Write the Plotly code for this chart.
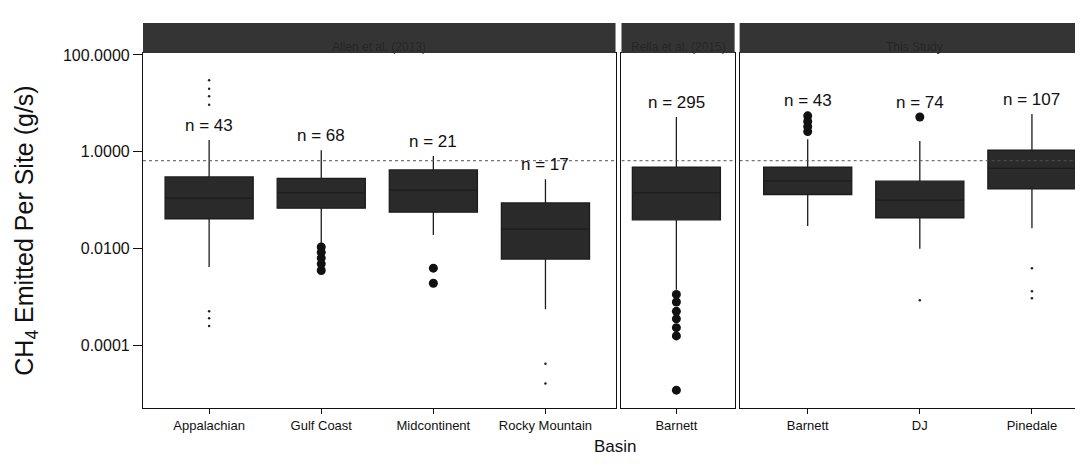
import math
import plotly.graph_objects as go

# ---------------- data (g/s) ----------------
# Panel 1: Allen et al. (2013)
p1_basins = ["Appalachian", "Gulf Coast", "Midcontinent", "Rocky Mountain"]
p1_n = [43, 68, 21, 17]
p1_lower = [0.0041, 0.0117, 0.019, 0.00055]
p1_q1 = [0.041, 0.068, 0.056, 0.006]
p1_median = [0.11, 0.14, 0.16, 0.025]
p1_q3 = [0.30, 0.28, 0.42, 0.087]
p1_upper = [1.74, 1.07, 0.81, 0.27]
p1_out_basin = ["Gulf Coast"] * 5 + ["Midcontinent"] * 2
p1_out_value = [0.0107, 0.0083, 0.0063, 0.0048, 0.0035, 0.0039, 0.0019]
p1_pt_basin = ["Appalachian"] * 7 + ["Rocky Mountain"] * 2
p1_pt_value = [30, 20, 14, 9.3, 0.0005, 0.00036, 0.00025, 4.1e-5, 1.6e-5]

# Panel 2: Barnett (second study)
p2_basins = ["Barnett"]
p2_n = [295]
p2_lower = [0.0014]
p2_q1 = [0.039]
p2_median = [0.14]
p2_q3 = [0.48]
p2_upper = [5.2]
p2_out_basin = ["Barnett"] * 7
p2_out_value = [0.00112, 0.00078, 0.0005, 0.00035, 0.00023, 0.000155, 0.0000117]

# Panel 3: this study
p3_basins = ["Barnett", "DJ", "Pinedale"]
p3_n = [43, 74, 107]
p3_lower = [0.029, 0.0098, 0.026]
p3_q1 = [0.13, 0.043, 0.17]
p3_median = [0.25, 0.10, 0.45]
p3_q3 = [0.48, 0.245, 1.07]
p3_upper = [1.8, 1.66, 6.0]
p3_out_basin = ["Barnett"] * 4 + ["DJ"]
p3_out_value = [5.5, 4.2, 3.3, 2.6, 5.2]
p3_pt_basin = ["DJ", "Pinedale", "Pinedale", "Pinedale"]
p3_pt_value = [0.00085, 0.0039, 0.0013, 0.00093]

strip_labels = ["Allen et al. (2013)", "Rella et al. (2015)", "This Study"]
ref_line = 0.65

y_tickvals = [0.0001, 0.01, 1, 100]
y_ticktext = ["0.0001", "0.0100", "1.0000", "100.0000"]

FONT = "Liberation Sans, Arial, sans-serif"
BOX_FILL = "#2a2a2a"
INK = "#111111"

PLOT_H = 355.0
STRIP_H = 30.0

panels = [
    dict(basins=p1_basins, n=p1_n, lower=p1_lower, q1=p1_q1, med=p1_median, q3=p1_q3,
         upper=p1_upper, ob=p1_out_basin, ov=p1_out_value, pb=p1_pt_basin, pv=p1_pt_value,
         xa="x", ya="y", dom=[0.0, 0.4995], rng=[-0.59, 3.625]),
    dict(basins=p2_basins, n=p2_n, lower=p2_lower, q1=p2_q1, med=p2_median, q3=p2_q3,
         upper=p2_upper, ob=p2_out_basin, ov=p2_out_value, pb=[], pv=[],
         xa="x2", ya="y2", dom=[0.5058, 0.6254], rng=[-0.49, 0.52]),
    dict(basins=p3_basins, n=p3_n, lower=p3_lower, q1=p3_q1, med=p3_median, q3=p3_q3,
         upper=p3_upper, ob=p3_out_basin, ov=p3_out_value, pb=p3_pt_basin, pv=p3_pt_value,
         xa="x3", ya="y3", dom=[0.6307, 1.0], rng=[-0.607, 2.509]),
]

fig = go.Figure()
annotations = []
shapes = []

for i, p in enumerate(panels):
    pos = list(range(len(p["basins"])))
    idx = {b: k for k, b in enumerate(p["basins"])}
    # reference dotted line
    fig.add_trace(go.Scatter(x=p["rng"], y=[ref_line, ref_line], mode="lines",
                             line=dict(color="#555555", width=1, dash="dot"),
                             xaxis=p["xa"], yaxis=p["ya"], hoverinfo="skip", showlegend=False))
    fig.add_trace(go.Box(x=pos, q1=p["q1"], median=p["med"], q3=p["q3"],
                         lowerfence=p["lower"], upperfence=p["upper"],
                         width=0.786, whiskerwidth=0, fillcolor=BOX_FILL,
                         line=dict(color="#1c1c1c", width=1.3), boxpoints=False,
                         xaxis=p["xa"], yaxis=p["ya"], showlegend=False))
    if p["ov"]:
        fig.add_trace(go.Scatter(x=[idx[b] for b in p["ob"]], y=p["ov"], mode="markers",
                                 marker=dict(color=INK, size=9),
                                 xaxis=p["xa"], yaxis=p["ya"], showlegend=False))
    if p["pv"]:
        fig.add_trace(go.Scatter(x=[idx[b] for b in p["pb"]], y=p["pv"], mode="markers",
                                 marker=dict(color="#222222", size=2.5),
                                 xaxis=p["xa"], yaxis=p["ya"], showlegend=False))
    # n labels
    for k, b in enumerate(p["basins"]):
        top = p["upper"][k]
        for ob, ov in zip(p["ob"], p["ov"]):
            if ob == b and ov > top:
                top = ov
        annotations.append(dict(x=k, y=math.log10(top), xref=p["xa"], yref=p["ya"],
                                text=f"n = {p['n'][k]}", showarrow=False, yshift=15,
                                font=dict(family=FONT, size=17, color=INK)))
    # strip
    xd = p["xa"] + " domain"
    shapes.append(dict(type="rect", xref=xd, yref="paper", x0=0, x1=1, y0=1.0,
                       y1=1.0 + STRIP_H / PLOT_H,
                       fillcolor="#343434", line=dict(width=0), layer="above"))
    annotations.append(dict(x=0.5, y=1.0 + STRIP_H / PLOT_H / 2, xref=xd, yref="paper",
                            text=strip_labels[i], showarrow=False,
                            font=dict(family=FONT, size=12, color="#262626")))

annotations.append(dict(x=0.4995, y=-50 / PLOT_H, xref="paper", yref="paper", text="Basin",
                        showarrow=False, font=dict(family=FONT, size=17, color=INK)))

axis_common = dict(showgrid=False, zeroline=False, showline=True, mirror=True,
                   linecolor=INK, linewidth=1.2, ticks="outside", ticklen=5,
                   tickcolor=INK, tickfont=dict(family=FONT, size=13, color=INK))

layout = dict(
    width=1083, height=466,
    margin=dict(l=135, r=2, t=45, b=66),
    paper_bgcolor="white", plot_bgcolor="white",
    showlegend=False,
    annotations=annotations, shapes=shapes,
)
for i, p in enumerate(panels):
    sfx = "" if i == 0 else str(i + 1)
    layout["xaxis" + sfx] = dict(axis_common, domain=p["dom"], range=p["rng"],
                                 tickvals=list(range(len(p["basins"]))), ticktext=p["basins"],
                                 anchor=p["ya"])
    ya = dict(axis_common, type="log", range=[-5.30, 2.04], domain=[0, 1], anchor=p["xa"],
              tickvals=y_tickvals, ticktext=y_ticktext)
    if i == 0:
        ya.update(ticklen=9, tickfont=dict(family=FONT, size=16, color=INK),
                  title=dict(text="CH<sub>4</sub> Emitted Per Site (g/s)",
                             font=dict(family=FONT, size=25, color=INK), standoff=22))
    else:
        ya.update(matches="y", showticklabels=False, ticks="")
    layout["yaxis" + sfx] = ya

fig.update_layout(**layout)
fig.write_html("out.html")
